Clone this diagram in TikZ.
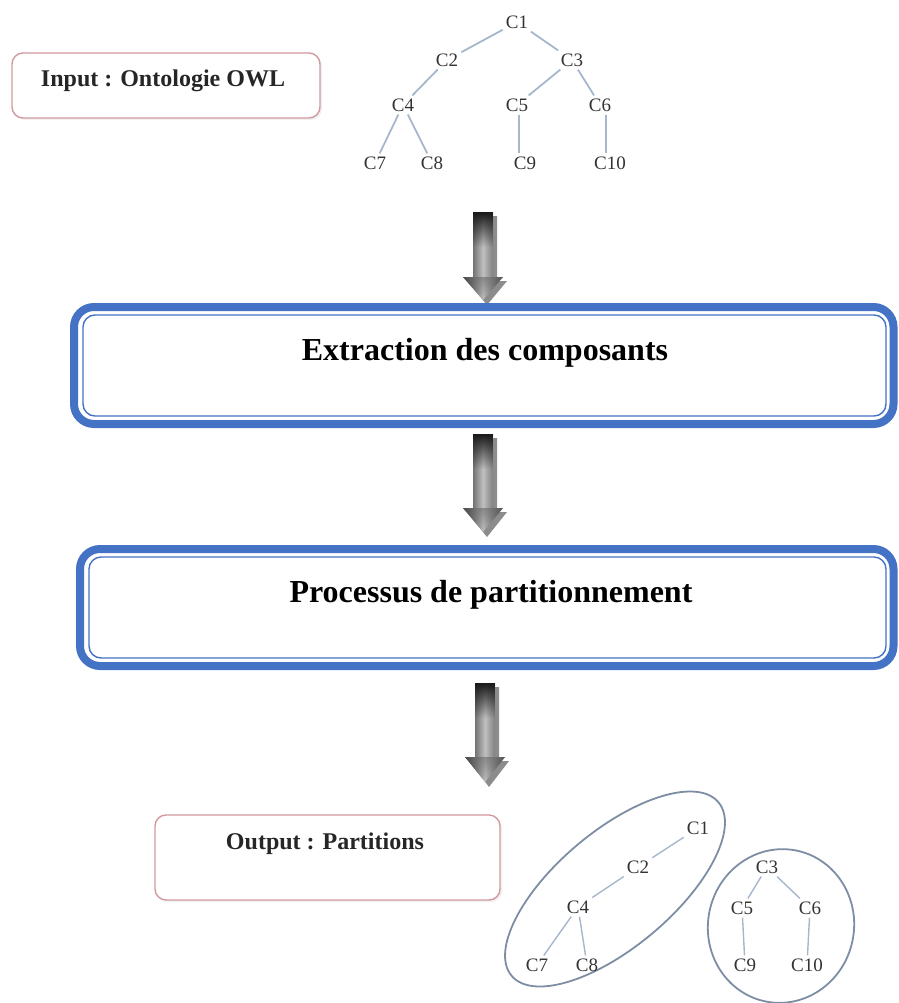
\documentclass[tikz,border=0pt]{standalone}
\usepackage{fontspec}
\setmainfont{Liberation Serif}
\usetikzlibrary{shadows,fadings}

\definecolor{frameblue}{HTML}{4472C4}
\definecolor{pinkframe}{HTML}{D29A9E}
\definecolor{edgeblue}{HTML}{A6B7CB}
\definecolor{groupline}{HTML}{7D8DA3}

\tikzfading[name=fadedown, top color=transparent!0, bottom color=transparent!100]

\tikzset{
  outerframe/.style={draw=frameblue, line width=8pt, rounded corners=20pt},
  innerframe/.style={draw=frameblue, line width=1.4pt, rounded corners=12pt},
  boxtitle/.style={font=\bfseries\fontsize{32}{36}\selectfont, inner sep=0pt},
  iobox/.style={draw=pinkframe, line width=1.4pt, rounded corners=11pt, fill=white,
    drop shadow={opacity=0.12, shadow xshift=2pt, shadow yshift=-2pt}},
  iotitle/.style={font=\bfseries\fontsize{24}{27}\selectfont, text=black!85, inner sep=0pt},
  treenode/.style={font=\fontsize{19}{19}\selectfont, text=black!80, inner sep=3pt},
  treeedge/.style={draw=edgeblue, line width=1.8pt},
  groupshape/.style={draw=groupline, line width=1.8pt},
}

% block arrow: centre x, top y, head start y, tip y
\newcommand\BlockArrow[4]{%
  \fill[black!45] (#1-6,#2+4) -- (#1+14,#2+4) -- (#1+14,#3+4) -- (#1+24,#3+4)
    -- (#1+4,#4+5) -- (#1-16,#3+4) -- (#1-6,#3+4) -- cycle;
  \shade[left color=black!85, right color=black!75, middle color=black!25]
    (#1-10,#2) -- (#1+10,#2) -- (#1+10,#3) -- (#1+20,#3) -- (#1,#4)
    -- (#1-20,#3) -- (#1-10,#3) -- cycle;
  \fill[black!90, path fading=fadedown] (#1-10,#2) rectangle (#1+10,#2+35);
  \fill[black!60, path fading=fadedown, opacity=0.6]
    (#1-20,#3) -- (#1+20,#3) -- (#1,#4) -- cycle;
}

\begin{document}
\begin{tikzpicture}[x=1pt,y=-1pt]
\useasboundingbox (0,0) rectangle (898,1003);

% input
\draw[iobox] (12,53) rectangle (320,118);
\node[iotitle, anchor=base] (input) at (163,87) {Input : Ontologie OWL};

% ontology tree
\begin{scope}[every node/.style={treenode}]
  \node (a1) at (517,22) {C1};
  \node (a2) at (447,60) {C2};
  \node (a3) at (572,60) {C3};
  \node (a4) at (403,105) {C4};
  \node (a5) at (517,105) {C5};
  \node (a6) at (600,105) {C6};
  \node (a7) at (375,163) {C7};
  \node (a8) at (432,163) {C8};
  \node (a9) at (525,163) {C9};
  \node (a10) at (610,163) {C10};
\end{scope}
\draw[treeedge] (a1) -- (a2);
\draw[treeedge] (a1) -- (a3);
\draw[treeedge] (a2) -- (a4);
\draw[treeedge] (a3) -- (a5);
\draw[treeedge] (a3) -- (a6);
\draw[treeedge] (a4) -- (a7);
\draw[treeedge] (a4) -- (a8);
\draw[treeedge] (a5.south) ++(2,0) coordinate (a5b) -- (a5b |- a9.north);
\draw[treeedge] (a6.south) ++(6,0) coordinate (a6b) -- (a6b |- a10.north);

\BlockArrow{483}{212}{277}{300}

% first step
\draw[outerframe] (74,307) rectangle (893.5,424);
\draw[innerframe] (83,315) rectangle (886,416);
\node[boxtitle, anchor=base] (extract) at (485,360) {Extraction des composants};

\BlockArrow{483}{434}{508}{532}

% second step
\draw[outerframe] (80,549) rectangle (893.5,666);
\draw[innerframe] (89,557) rectangle (886,658);
\node[boxtitle, anchor=base] (partition) at (491,602) {Processus de partitionnement};

\BlockArrow{485}{683}{757}{782}

% output
\draw[iobox] (155,815) rectangle (500,900);
\node[iotitle, anchor=base] (output) at (325,849) {Output : Partitions};

% partition groups
\draw[groupshape, rotate around={40:(615,889)}] (615,889) ellipse [x radius=135pt, y radius=58pt];
\draw[groupshape, rotate around={-12:(781,926)}] (781,926) ellipse [x radius=73pt, y radius=77pt];

\begin{scope}[every node/.style={treenode}]
  \node (b1) at (698,828) {C1};
  \node (b2) at (638,867) {C2};
  \node (b4) at (578,907) {C4};
  \node (b7) at (537,965) {C7};
  \node (b8) at (587,965) {C8};
  \node (b3) at (767,867) {C3};
  \node (b5) at (742,908) {C5};
  \node (b6) at (810,908) {C6};
  \node (b9) at (745,965) {C9};
  \node (b10) at (807,965) {C10};
\end{scope}
\draw[treeedge, line width=1.4pt] (b1) -- (b2);
\draw[treeedge, line width=1.4pt] (b2) -- (b4);
\draw[treeedge, line width=1.4pt] (b4) -- (b7);
\draw[treeedge, line width=1.4pt] (b4) -- (b8);
\draw[treeedge, line width=1.4pt] (b3) -- (b5);
\draw[treeedge, line width=1.4pt] (b3) -- (b6);
\draw[treeedge, line width=1.4pt] (b5) -- (b9);
\draw[treeedge, line width=1.4pt] (b6) -- (b10);
\end{tikzpicture}
\end{document}
